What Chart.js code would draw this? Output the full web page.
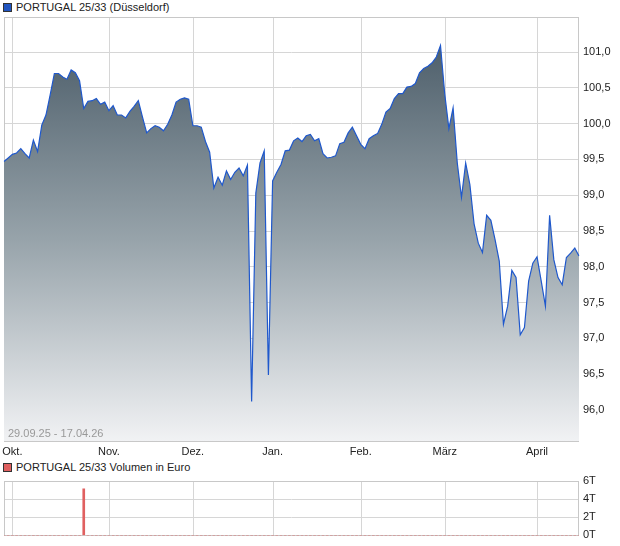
<!DOCTYPE html>
<html>
<head>
<meta charset="utf-8">
<script src="https://cdn.jsdelivr.net/npm/chart.js@4/dist/chart.umd.min.js"></script>
<style>
  html, body { margin: 0; padding: 0; background: #fff; }
  body { width: 620px; height: 546px; position: relative; overflow: hidden; font-family: "Liberation Sans", Arial, sans-serif; }
  .lg { position: absolute; left: 3px; font-size: 11px; color: #222; line-height: 13px; white-space: nowrap; }
  .lg i { display: inline-block; width: 7px; height: 7px; border: 1px solid #333; margin-right: 4px; vertical-align: -1px; }
  #c1 { position: absolute; left: 0; top: 0; }
  #c2 { position: absolute; left: 0; top: 460px; }
  #range { position: absolute; left: 8px; top: 427px; font-size: 11px; color: #999; z-index: 2; }
</style>
</head>
<body>
<div class="lg" style="top:1px"><i style="background:#2155c0"></i>PORTUGAL 25/33 (Düsseldorf)</div>
<canvas id="c1" width="620" height="460"></canvas>
<div id="range">29.09.25 - 17.04.26</div>
<div class="lg" style="top:461px"><i style="background:#e06060"></i>PORTUGAL 25/33 Volumen in Euro</div>
<canvas id="c2" width="620" height="86"></canvas>
<script>
const categories = [
  '29.09.25','30.09.25',
  '01.10.25','02.10.25','03.10.25','06.10.25','07.10.25','08.10.25','09.10.25','10.10.25','13.10.25','14.10.25','15.10.25','16.10.25','17.10.25','20.10.25','21.10.25','22.10.25','23.10.25','24.10.25','27.10.25','28.10.25','29.10.25','30.10.25','31.10.25',
  '03.11.25','04.11.25','05.11.25','06.11.25','07.11.25','10.11.25','11.11.25','12.11.25','13.11.25','14.11.25','17.11.25','18.11.25','19.11.25','20.11.25','21.11.25','24.11.25','25.11.25','26.11.25','27.11.25','28.11.25',
  '01.12.25','02.12.25','03.12.25','04.12.25','05.12.25','08.12.25','09.12.25','10.12.25','11.12.25','12.12.25','15.12.25','16.12.25','17.12.25','18.12.25','19.12.25','22.12.25','23.12.25','29.12.25','30.12.25',
  '02.01.26','05.01.26','06.01.26','07.01.26','08.01.26','09.01.26','12.01.26','13.01.26','14.01.26','15.01.26','16.01.26','19.01.26','20.01.26','21.01.26','22.01.26','23.01.26','26.01.26','27.01.26','28.01.26','29.01.26','30.01.26',
  '02.02.26','03.02.26','04.02.26','05.02.26','06.02.26','09.02.26','10.02.26','11.02.26','12.02.26','13.02.26','16.02.26','17.02.26','18.02.26','19.02.26','20.02.26','23.02.26','24.02.26','25.02.26','26.02.26','27.02.26',
  '02.03.26','03.03.26','04.03.26','05.03.26','06.03.26','09.03.26','10.03.26','11.03.26','12.03.26','13.03.26','16.03.26','17.03.26','18.03.26','19.03.26','20.03.26','23.03.26','24.03.26','25.03.26','26.03.26','27.03.26','30.03.26','31.03.26',
  '01.04.26','02.04.26','07.04.26','08.04.26','09.04.26','10.04.26','13.04.26','14.04.26','15.04.26','16.04.26','17.04.26'
];
const priceValues = [
  99.47, 99.52,
  99.57, 99.59, 99.65, 99.58, 99.52, 99.77, 99.61, 99.98, 100.12, 100.40, 100.70, 100.70, 100.65, 100.62, 100.75, 100.71, 100.60, 100.21, 100.31, 100.32, 100.35, 100.27, 100.30,
  100.18, 100.25, 100.12, 100.12, 100.08, 100.17, 100.24, 100.32, 100.09, 99.87, 99.93, 99.97, 99.95, 99.90, 99.99, 100.12, 100.30, 100.34, 100.36, 100.34,
  99.97, 99.97, 99.95, 99.75, 99.60, 99.10, 99.25, 99.14, 99.34, 99.22, 99.32, 99.38, 99.27, 99.42, 96.12, 99.03, 99.45, 99.62, 96.49,
  99.20, 99.32, 99.43, 99.62, 99.63, 99.76, 99.80, 99.75, 99.83, 99.85, 99.76, 99.79, 99.58, 99.52, 99.53, 99.55, 99.72, 99.74, 99.87, 99.95, 99.83,
  99.71, 99.65, 99.79, 99.83, 99.86, 99.99, 100.16, 100.21, 100.35, 100.42, 100.42, 100.51, 100.52, 100.56, 100.71, 100.77, 100.80, 100.85, 100.93, 101.09,
  100.42, 99.93, 100.22, 99.45, 98.97, 99.45, 99.15, 98.60, 98.33, 98.20, 98.72, 98.65, 98.38, 98.08, 97.20, 97.45, 97.95, 97.85, 97.05, 97.15, 97.80, 98.05,
  98.14, 97.80, 97.45, 98.72, 98.10, 97.85, 97.75, 98.13, 98.19, 98.26, 98.15
];
const volumeValues = [
  0, 0,
  0, 0, 0, 0, 0, 0, 0, 0, 0, 0, 0, 0, 0, 0, 0, 0, 0, 5.15, 0, 0, 0, 0, 0,
  0, 0, 0, 0, 0, 0, 0, 0, 0, 0, 0, 0, 0, 0, 0, 0, 0, 0, 0, 0,
  0, 0, 0, 0, 0, 0, 0, 0, 0, 0, 0, 0, 0, 0, 0, 0, 0, 0, 0,
  0, 0, 0, 0, 0, 0, 0, 0, 0, 0, 0, 0, 0, 0, 0, 0, 0, 0, 0, 0, 0,
  0, 0, 0, 0, 0, 0, 0, 0, 0, 0, 0, 0, 0, 0, 0, 0, 0, 0, 0, 0,
  0, 0, 0, 0, 0, 0, 0, 0, 0, 0, 0, 0, 0, 0, 0, 0, 0, 0, 0, 0, 0, 0,
  0, 0, 0, 0, 0, 0, 0, 0, 0, 0, 0
];
const priceTicks = [96.0, 96.5, 97.0, 97.5, 98.0, 98.5, 99.0, 99.5, 100.0, 100.5, 101.0];
const volumeTicks = [0, 2, 4, 6];
const monthLabels = ['Okt.', 'Nov.', 'Dez.', 'Jan.', 'Feb.', 'März', 'April'];
const monthStarts = ['01.10.25', '03.11.25', '01.12.25', '02.01.26', '02.02.26', '02.03.26', '01.04.26'];

const FONT = { family: '"Liberation Sans", Arial, sans-serif', size: 11 };
const GRID = '#d6d6d6';
const monthIdx = monthStarts.map(d => categories.indexOf(d));

const framePlugin = {
  id: 'frame',
  beforeDatasetsDraw(chart) {
    const a = chart.chartArea, c = chart.ctx, xs = chart.scales.x;
    c.save();
    c.lineWidth = 1;
    c.strokeStyle = GRID;
    monthIdx.forEach(i => {
      const px = Math.round(xs.getPixelForValue(i)) + 0.5;
      c.beginPath();
      c.moveTo(px, a.top);
      c.lineTo(px, a.bottom);
      c.stroke();
    });
    c.strokeStyle = '#c8c8c8';
    c.strokeRect(Math.round(a.left) + 0.5, Math.round(a.top) + 0.5, Math.round(a.right - a.left) - 1, Math.round(a.bottom - a.top));
    c.restore();
  }
};

function xScale(showLabels, h) {
  return {
    type: 'category',
    offset: false,
    afterBuildTicks: s => { s.ticks = monthIdx.map(i => ({ value: i })); },
    afterFit: s => { s.height = h; s.paddingLeft = 0; s.paddingRight = 0; },
    ticks: {
      display: true,
      autoSkip: false,
      maxRotation: 0,
      padding: 4,
      color: showLabels ? '#222' : 'rgba(0,0,0,0)',
      font: FONT,
      callback: v => monthLabels[monthIdx.indexOf(v)]
    },
    grid: { display: false, drawTicks: false, offset: false },
    border: { display: false }
  };
}

new Chart(document.getElementById('c1'), {
  type: 'line',
  data: {
    labels: categories,
    datasets: [{
      data: priceValues,
      borderColor: '#1f58cc',
      borderWidth: 1.2,
      pointRadius: 0,
      tension: 0,
      fill: 'start',
      backgroundColor: ctx => {
        const a = ctx.chart.chartArea;
        if (!a) return '#8a979f';
        const g = ctx.chart.ctx.createLinearGradient(0, a.top + 25, 0, a.bottom);
        g.addColorStop(0, '#4d5e6a');
        g.addColorStop(0.5, '#98a4ab');
        g.addColorStop(1, '#f1f2f4');
        return g;
      }
    }]
  },
  options: {
    responsive: false,
    animation: false,
    layout: { padding: { left: 4, top: 17, right: 0, bottom: 0 } },
    plugins: { legend: { display: false }, tooltip: { enabled: false } },
    scales: {
      x: xScale(true, 19),
      y: {
        position: 'right',
        min: 95.567,
        max: 101.489,
        afterBuildTicks: s => { s.ticks = priceTicks.map(v => ({ value: v })); },
        afterFit: s => { s.width = 41; },
        ticks: {
          padding: 4,
          color: '#222',
          font: FONT,
          callback: v => v.toFixed(1).replace('.', ',')
        },
        grid: { color: GRID, drawTicks: false },
        border: { display: false }
      }
    }
  },
  plugins: [framePlugin]
});

new Chart(document.getElementById('c2'), {
  type: 'bar',
  data: {
    labels: categories,
    datasets: [{
      data: volumeValues,
      backgroundColor: '#e06060',
      barThickness: 2
    }]
  },
  options: {
    responsive: false,
    animation: false,
    layout: { padding: { left: 4, top: 21, right: 0, bottom: 6 } },
    plugins: { legend: { display: false }, tooltip: { enabled: false } },
    scales: {
      x: xScale(false, 0),
      y: {
        position: 'right',
        min: 0,
        max: 6,
        afterBuildTicks: s => { s.ticks = volumeTicks.map(v => ({ value: v })); },
        afterFit: s => { s.width = 41; },
        ticks: {
          padding: 4,
          color: '#222',
          font: FONT,
          callback: v => v + 'T'
        },
        grid: { color: GRID, drawTicks: false },
        border: { display: false }
      }
    }
  },
  plugins: [framePlugin]
});
</script>
</body>
</html>
